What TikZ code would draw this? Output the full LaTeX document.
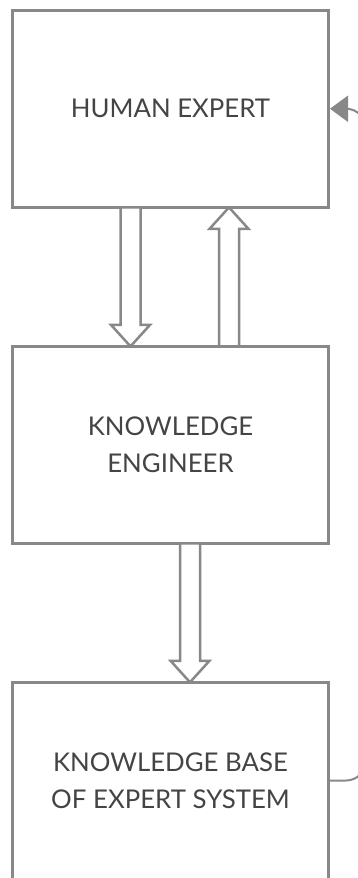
\documentclass[tikz,border=0pt]{standalone}
\usepackage{fontspec}
\setmainfont{Lato}
\usetikzlibrary{arrows.meta, calc}
\definecolor{edge}{HTML}{888888}
\definecolor{label}{HTML}{444444}
\tikzstyle{stage} = [rectangle, minimum width=316pt, minimum height=197pt, align=center, draw=edge, line width=3pt, text=label, font=\fontsize{25.8}{37.5}\selectfont]
\tikzstyle{flowline} = [draw=edge, fill=white, line width=2.5pt, line join=miter]
\tikzstyle{feedback} = [draw=edge, line width=2pt, rounded corners=20pt, -{Triangle[width=26pt, length=18pt]}]
\tikzset{
    pics/flowarrow/.style={code={
        \draw[flowline] (-10,-69.5) -- (-10,48) -- (-19.5,48) -- (0,69.5)
            -- (19.5,48) -- (10,48) -- (10,-69.5) -- cycle;
    }}
}

\begin{document}
\begin{tikzpicture}[x=1pt, y=-1pt]
    \clip (0,0) rectangle (358,878);

    % Stages
    \node[stage] (expert) at (170.5, 108.75) {HUMAN EXPERT};
    \node[stage] (engineer) at (170.5, 445) {KNOWLEDGE\\ENGINEER};
    \node[stage] (kbase) at (170.5, 780.5) {KNOWLEDGE BASE\\OF EXPERT SYSTEM};

    % Hollow flow arrows
    \path ($(expert.south)+(-40,0)$) -- pic[pos=0.5]{flowarrow} ($(engineer.north)+(-40,0)$);
    \path ($(engineer.north)+(58.5,0)$) -- pic[pos=0.5, rotate=180]{flowarrow} ($(expert.south)+(58.5,0)$);
    \path ($(engineer.south)+(19.5,0)$) -- pic[pos=0.5]{flowarrow} ($(kbase.north)+(19.5,0)$);

    % Feedback loop
    \draw[feedback] (kbase.east) -- ++(36,0) |- (expert.east);
\end{tikzpicture}
\end{document}
